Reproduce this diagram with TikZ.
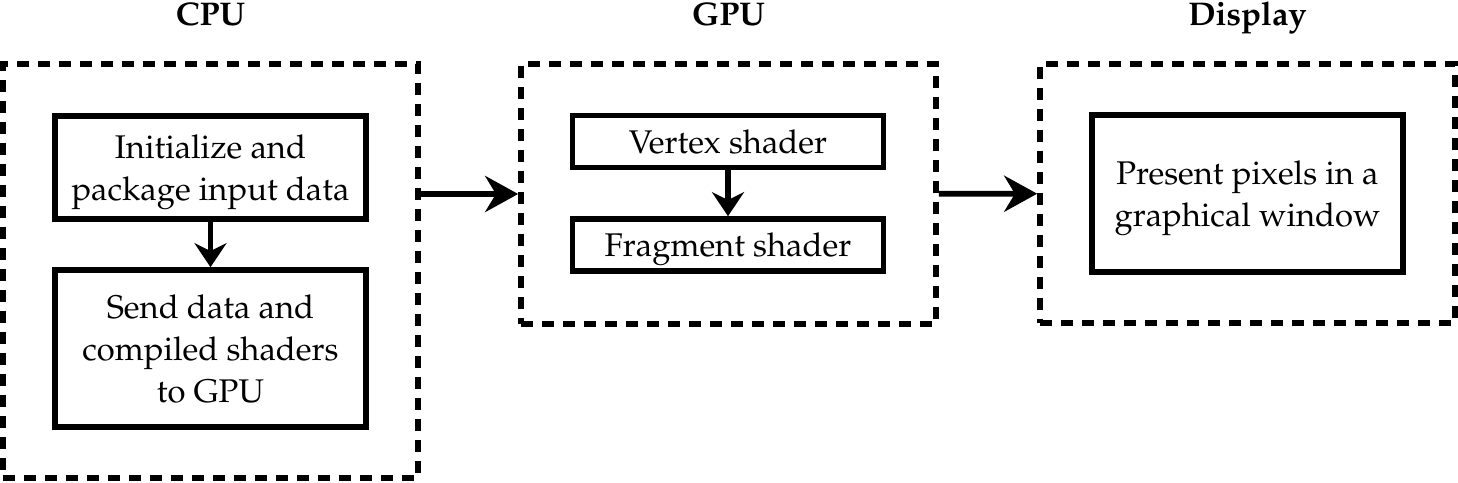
\documentclass[tikz,border=0pt]{standalone}
\usepackage[T1]{fontenc}
\usepackage{mathpazo}
\usetikzlibrary{arrows.meta}

\begin{document}
\fontsize{9.33}{12}\selectfont
\begin{tikzpicture}
    % Define styles for the boxes
    \tikzstyle{unit} = [draw, line width=1.6pt, dash pattern=on 0.12cm off 0.09cm, minimum width=4.15cm, inner sep=0pt]
    \tikzstyle{task} = [draw, line width=1.6pt, minimum width=3.11cm, align=center, inner sep=0pt, text depth=0pt]
    \tikzstyle{title} = [anchor=base, font=\bfseries]

    \useasboundingbox (0,0) rectangle (14.58,-4.82);

    % Outer units
    \node[unit, minimum height=4.14cm] (cpu) at (2.105,-2.71) {};
    \node[unit, minimum height=2.60cm] (gpu) at (7.285,-1.94) {};
    \node[unit, minimum height=2.59cm] (disp) at (12.475,-1.935) {};

    % Titles
    \node[title] (cpuT) at (2.105,-0.25) {CPU};
    \node[title] (gpuT) at (7.285,-0.25) {GPU};
    \node[title] (dispT) at (12.475,-0.25) {Display};

    % Tasks
    \node[task, minimum height=1.03cm] (init) at (2.105,-1.675) {Initialize and\\package input data};
    \node[task, minimum height=1.57cm] (send) at (2.105,-3.485) {Send data and\\compiled shaders\\to GPU};
    \node[task, minimum height=0.52cm] (vert) at (7.28,-1.415) {Vertex shader};
    \node[task, minimum height=0.52cm] (frag) at (7.28,-2.45) {Fragment shader};
    \node[task, minimum height=1.57cm] (pres) at (12.475,-1.935) {Present pixels in a\\graphical window};

    % Edges with arrows
    \draw[-{Stealth[length=0.24cm, width=0.32cm]}, line width=1.6pt] (init) -- (send);
    \draw[-{Stealth[length=0.24cm, width=0.32cm]}, line width=1.6pt] (vert) -- (frag);
    \draw[-{Stealth[length=0.33cm, width=0.36cm]}, line width=1.6pt] (cpu.east |- gpu) -- (gpu.west);
    \draw[-{Stealth[length=0.33cm, width=0.36cm]}, line width=1.6pt] (gpu) -- (disp);
\end{tikzpicture}
\end{document}
